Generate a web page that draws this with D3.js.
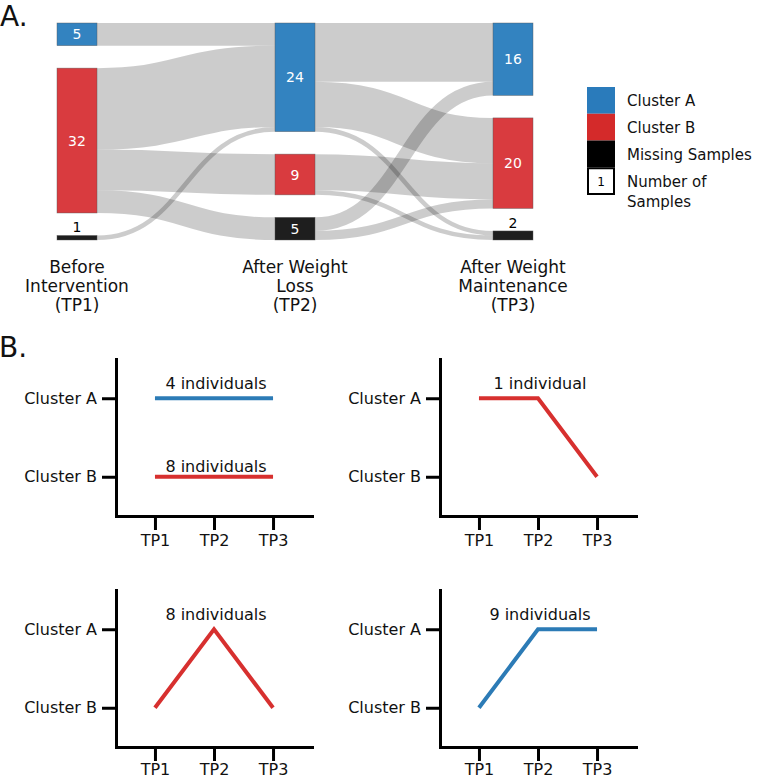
<!DOCTYPE html>
<html>
<head>
<meta charset="utf-8">
<script src="https://cdn.jsdelivr.net/npm/d3@7"></script>
<style>
  html, body { margin: 0; padding: 0; background: #fff; }
  svg { display: block; font-family: "DejaVu Sans", sans-serif; }
</style>
</head>
<body>
<svg id="chart" width="759" height="778"></svg>
<script>
// ---------------- DATA ----------------
const stageLabels = [
  ["Before", "Intervention", "(TP1)"],
  ["After Weight", "Loss", "(TP2)"],
  ["After Weight", "Maintenance", "(TP3)"]
];
const clusterNames = ["Cluster A", "Cluster B", "Missing Samples"];
// number of samples per node, per time point (A, B, Missing)
const nodeCounts = [
  [5, 32, 1],
  [24, 9, 5],
  [16, 20, 2]
];
// flows: rows = source node (A,B,Missing), cols = target node (A,B,Missing)
const flowsTP1toTP2 = [
  [5, 0, 0],
  [18, 9, 5],
  [1, 0, 0]
];
const flowsTP2toTP3 = [
  [13, 10, 1],
  [0, 8, 1],
  [3, 2, 0]
];
const legendItems = ["Cluster A", "Cluster B", "Missing Samples", "Number of Samples"];
const legendSample = "1";

// Panel B
const timePoints = ["TP1", "TP2", "TP3"];
const clusterLevels = ["Cluster A", "Cluster B"];
const pathways = [
  ["Cluster A", "Cluster A", "Cluster A"],
  ["Cluster B", "Cluster B", "Cluster B"],
  ["Cluster A", "Cluster A", "Cluster B"],
  ["Cluster B", "Cluster A", "Cluster B"],
  ["Cluster B", "Cluster A", "Cluster A"]
];
const pathwayCounts = [4, 8, 1, 8, 9];
const pathwayLabels = ["4 individuals", "8 individuals", "1 individual", "8 individuals", "9 individuals"];
const pathwayPanel = [0, 0, 1, 2, 3];

// ---------------- STYLE ----------------
const nodeColors = ["#3383c0", "#d93b3f", "#1e1e1e"];
const legendColors = ["#2a7bbb", "#d42a2a", "#000000"];
const lineColors = { "Cluster A": "#2c7bb6", "Cluster B": "#d7302f" };

const svg = d3.select("#chart");

// ---------------- PANEL A : SANKEY ----------------
const nodeW = 40;
const sankeyTop = 23, sankeyBottom = 240, pad = 22.5;
const xStage = d3.scalePoint().domain(d3.range(stageLabels.length)).range([57, 493]);
const total = d3.sum(nodeCounts[0]);
const h = d3.scaleLinear().domain([0, total]).range([0, (sankeyBottom - sankeyTop) - pad * (clusterNames.length - 1)]);

// compute node layout
const nodes = nodeCounts.map((col, s) => {
  let y = sankeyTop;
  return col.map((v, i) => {
    const n = { stage: s, idx: i, value: v, x0: xStage(s), x1: xStage(s) + nodeW, y0: y, y1: y + h(v) };
    y = n.y1 + pad;
    return n;
  });
});

// compute links
const links = [];
[flowsTP1toTP2, flowsTP2toTP3].forEach((m, s) => {
  const srcOff = nodes[s].map(n => n.y0);
  const tgtOff = nodes[s + 1].map(n => n.y0);
  m.forEach((row, i) => {
    row.forEach((v, j) => {
      if (v <= 0) return;
      const w = h(v);
      links.push({
        source: nodes[s][i], target: nodes[s + 1][j], value: v, width: w,
        ys: srcOff[i] + w / 2, yt: tgtOff[j] + w / 2
      });
      srcOff[i] += w;
      tgtOff[j] += w;
    });
  });
});

const linkGen = d3.linkHorizontal()
  .source(d => [d.source.x1, d.ys])
  .target(d => [d.target.x0, d.yt]);

svg.append("g")
  .selectAll("path")
  .data(links)
  .join("path")
  .attr("d", linkGen)
  .attr("fill", "none")
  .attr("stroke", "#000")
  .attr("stroke-opacity", 0.2)
  .attr("stroke-width", d => d.width);

const nodeG = svg.append("g");
nodes.flat().forEach(n => {
  nodeG.append("rect")
    .attr("x", n.x0).attr("y", n.y0)
    .attr("width", n.x1 - n.x0).attr("height", n.y1 - n.y0)
    .attr("fill", nodeColors[n.idx])
    .attr("stroke", "#555").attr("stroke-width", 0.6).attr("stroke-opacity", 0.7);
  const big = (n.y1 - n.y0) > 15;
  nodeG.append("text")
    .attr("x", (n.x0 + n.x1) / 2)
    .attr("y", big ? (n.y0 + n.y1) / 2 : n.y0 - 3)
    .attr("dy", big ? "0.36em" : 0)
    .attr("text-anchor", "middle")
    .attr("font-size", 14)
    .attr("fill", big ? "#fff" : "#000")
    .text(n.value);
});

// stage labels
stageLabels.forEach((lines, s) => {
  const t = svg.append("text")
    .attr("text-anchor", "middle")
    .attr("font-size", 17)
    .attr("fill", "#111");
  lines.forEach((ln, k) => {
    t.append("tspan")
      .attr("x", xStage(s) + nodeW / 2)
      .attr("y", 273 + k * 19)
      .text(ln);
  });
});

// legend
const lg = d3.scaleBand().domain(legendItems).range([87, 194]);
legendItems.forEach((item, i) => {
  const y = lg(item);
  const isSample = i === legendItems.length - 1;
  svg.append("rect")
    .attr("x", isSample ? 588 : 587).attr("y", isSample ? y + 1 : y)
    .attr("width", isSample ? 26 : 28).attr("height", isSample ? lg.bandwidth() - 1 : lg.bandwidth())
    .attr("fill", isSample ? "#fff" : legendColors[i])
    .attr("stroke", isSample ? "#000" : "none")
    .attr("stroke-width", 2);
  if (isSample) {
    svg.append("text")
      .attr("x", 601).attr("y", y + lg.bandwidth() / 2 + 1)
      .attr("dy", "0.36em")
      .attr("text-anchor", "middle").attr("font-size", 12)
      .text(legendSample);
  }
  const words = isSample ? ["Number of", "Samples"] : [item];
  const t = svg.append("text").attr("font-size", 15).attr("fill", "#111");
  words.forEach((w, k) => {
    t.append("tspan").attr("x", 627).attr("y", y + lg.bandwidth() / 2 + 6 + k * 20).text(w);
  });
});

// panel titles
svg.append("text").attr("x", 0).attr("y", 26).attr("font-size", 28).attr("fill", "#111").text("A.");
svg.append("text").attr("x", -1).attr("y", 357).attr("font-size", 28).attr("fill", "#111").text("B.");

// ---------------- PANEL B : PATHWAYS ----------------
const panelOrigins = [
  { x: 116, y: 359 }, { x: 440, y: 359 },
  { x: 116, y: 590 }, { x: 440, y: 590 }
];
const panelW = 196, panelH = 157;

panelOrigins.forEach((o, p) => {
  const xs = d3.scalePoint().domain(timePoints).range([o.x, o.x + panelW]).padding(0.66);
  const ys = d3.scalePoint().domain(clusterLevels).range([o.y, o.y + panelH]).padding(0.5);
  const g = svg.append("g");

  const ya = g.append("g").attr("transform", `translate(${o.x},0)`)
    .call(d3.axisLeft(ys).tickSize(14).tickSizeOuter(0).tickPadding(5));
  const xa = g.append("g").attr("transform", `translate(0,${o.y + panelH})`)
    .call(d3.axisBottom(xs).tickSize(14).tickSizeOuter(0).tickPadding(p < 2 ? 5 : 3));
  [ya, xa].forEach(a => {
    a.attr("font-family", null).attr("font-size", null);
    a.selectAll("path.domain").attr("stroke", "#000").attr("stroke-width", 3).attr("stroke-linecap", "square");
    a.selectAll(".tick line").attr("stroke", "#000").attr("stroke-width", 3);
    a.selectAll(".tick text").attr("fill", "#111").attr("font-size", 16);
  });

  const line = d3.line().x((d, i) => xs(timePoints[i])).y(d => ys(d));
  pathways.forEach((pw, k) => {
    if (pathwayPanel[k] !== p) return;
    g.append("path")
      .attr("d", line(pw))
      .attr("fill", "none")
      .attr("stroke", lineColors[pw[2]])
      .attr("stroke-width", 4)
      .attr("stroke-linejoin", "miter");
    const peak = ys(pw[1]);
    g.append("text")
      .attr("x", xs("TP2") + 2)
      .attr("y", peak - (pw[1] === "Cluster B" ? 5 : 9))
      .attr("text-anchor", "middle")
      .attr("font-size", 16)
      .attr("fill", "#111")
      .text(pathwayLabels[k]);
  });
});
</script>
</body>
</html>
